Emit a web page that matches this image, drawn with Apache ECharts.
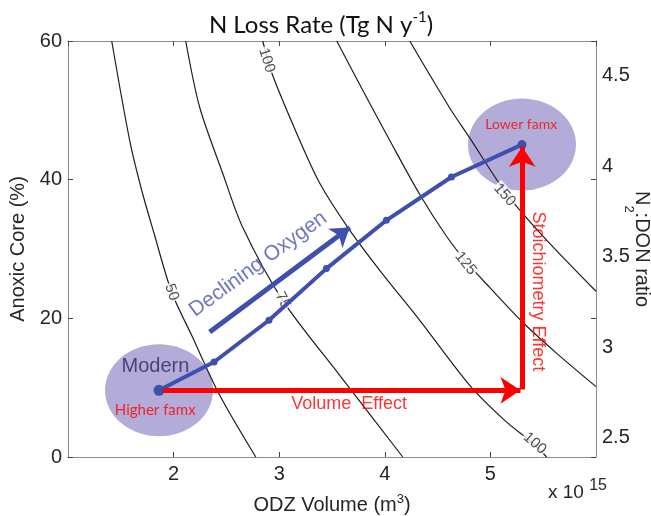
<!DOCTYPE html>
<html><head><meta charset="utf-8">
<script src="https://cdn.jsdelivr.net/npm/echarts@6/dist/echarts.min.js"></script>
<style>html,body{margin:0;padding:0;background:#fff}#c{width:651px;height:516px}</style>
</head><body><div id="c"></div>
<script>
// ---- data (x: ODZ volume, 10^15 m3; y: anoxic core %) ----
const xRange = [1, 6];
const yRange = [0, 60];
const ratioRange = [2.394, 4.692];      // right axis N2:DON ratio
const contour50  = [[1.414,60],[1.584,45.68],[1.698,38.47],[1.812,32.41],[1.982,23.76],[2.171,17.55],[2.437,8.9],[2.778,0]];
const contour75  = [[2.115,60],[2.247,50.44],[2.465,40.92],[2.654,33.13],[3.033,22.60],[3.573,11.78],[4.170,0]];
const contour100 = [[2.844,60],[2.938,55.05],[3.194,45.68],[3.384,39.48],[3.649,33.13],[3.952,26.93],[4.331,19.72],[4.804,10.34],[5.135,5.29],[5.401,1.98],[5.533,0]];
const contour125 = [[3.545,60],[3.781,53.18],[4.046,45.68],[4.331,37.87],[4.586,31.8],[4.776,28.07],[4.993,24.47],[5.306,19.43],[5.628,14.95],[6.0,10.15]];
const contour150 = [[4.236,60],[4.615,50.34],[4.804,46.02],[5.154,37.94],[5.495,31.89],[6.0,23.9]];
const contourLabelText = ['100','50','75','125','150','100'];
const contourLabelPos  = [[2.882,57.22],[1.982,23.76],[3.033,22.6],[4.765,27.93],[5.135,37.8],[5.42,1.98]];
const oxygenPath = [[1.862,9.62],[2.383,13.70],[2.903,19.72],[3.447,27.17],[4.015,34.14],[4.631,40.39],[5.299,45.06]];
const statePoints = [[1.862,9.62],[5.299,45.06]];
const volumeEffect = [[1.899,9.62],[5.285,9.62]];
const stoichEffect = [[5.301,9.72],[5.301,44.74]];
const decliningArrow = [[2.342,18.03],[3.668,33.1]];
const annotationText = ['Modern','Higher famx','Lower famx','Declining Oxygen','Volume  Effect','Stoichiometry Effect'];
const annotationPos  = [[1.828,13.05],[1.826,6.74],[5.292,48.0],[2.80,27.8],[3.662,7.6],[5.448,23.9]];

// ---- styles ----
const HELV = 'Liberation Sans, Arial, sans-serif';
const CAL = 'Lato, Open Sans, sans-serif';
const labelAngles = [-72,-70,-63,-51,-48,-41];
const annotationStyles = [
  {fontSize:20, fontFamily:HELV, color:'#2a2a5e'},
  {fontSize:15, fontFamily:CAL, color:'#ff0000'},
  {fontSize:14, fontFamily:CAL, color:'#ff0000'},
  {fontSize:21, fontFamily:HELV, color:'#4a58b4', rotate:36},
  {fontSize:18, fontFamily:HELV, color:'#ff0000'},
  {fontSize:18, fontFamily:HELV, color:'#ff0000', rotate:-90}
];
const axisGray = '#8c8c8c';
const textDark = '#262626';

const contourSeries = [contour50, contour75, contour100, contour125, contour150].map((d, i) => ({
  type:'line', name:'c'+i, data:d, smooth:0.3, showSymbol:false, symbol:'none', z:2, silent:true,
  lineStyle:{color:'#1e1e1e', width:1.2}, xAxisIndex:0, yAxisIndex:0
}));

const chart = echarts.init(document.getElementById('c'), null, {renderer:'canvas'});
chart.setOption({
  animation:false,
  backgroundColor:'#fff',
  grid:{left:68, right:55, top:41, bottom:59, containLabel:false, outerBoundsMode:'none'},
  xAxis:[
    {type:'value', min:xRange[0], max:xRange[1], interval:1, position:'bottom',
     axisLine:{show:true, onZero:false, lineStyle:{color:axisGray, width:1}},
     axisTick:{show:true, inside:true, length:5, lineStyle:{color:'#444'}},
     axisLabel:{showMinLabel:false, showMaxLabel:false, fontSize:20, fontFamily:HELV, color:textDark, margin:7},
     splitLine:{show:false},
     name:'ODZ Volume (m{sup|3})', nameLocation:'middle', nameGap:36,
     nameTextStyle:{fontSize:20, fontFamily:HELV, color:textDark, lineHeight:24,
       rich:{sup:{fontSize:13, fontFamily:HELV, color:textDark, lineHeight:13, verticalAlign:'top'}}}},
    {type:'value', min:xRange[0], max:xRange[1], interval:1, position:'top',
     axisLine:{show:true, onZero:false, lineStyle:{color:axisGray, width:1}},
     axisTick:{show:true, inside:true, length:5, lineStyle:{color:'#444'}},
     axisLabel:{show:false}, splitLine:{show:false}}
  ],
  yAxis:[
    {type:'value', min:yRange[0], max:yRange[1], interval:20, position:'left',
     axisLine:{show:true, onZero:false, lineStyle:{color:axisGray, width:1}},
     axisTick:{show:true, inside:true, length:5, lineStyle:{color:'#444'}},
     axisLabel:{fontSize:20, fontFamily:HELV, color:textDark, margin:6},
     splitLine:{show:false},
     name:'Anoxic Core (%)', nameLocation:'middle', nameGap:35,
     nameTextStyle:{fontSize:20, fontFamily:HELV, color:textDark}},
    {type:'value', min:ratioRange[0], max:ratioRange[1], splitNumber:5, position:'right',
     axisLine:{show:true, onZero:false, lineStyle:{color:axisGray, width:1}},
     axisTick:{show:false},
     axisLabel:{showMinLabel:false, showMaxLabel:false, fontSize:20, fontFamily:HELV, color:textDark, margin:6,
       formatter:v => { const r = Math.round(v*2)/2; return Math.abs(v-r) < 1e-6 ? String(r) : ''; }},
     splitLine:{show:false}},
    {type:'value', min:yRange[0], max:yRange[1], interval:20, position:'right',
     axisLine:{show:false}, axisTick:{show:true, inside:true, length:5, lineStyle:{color:'#444'}},
     axisLabel:{show:false}, splitLine:{show:false}}
  ],
  graphic:[
    {type:'text', x:321, y:25, silent:true, style:{
      text:'{m|N Loss Rate (Tg N y}{s|-1}{m|)}', align:'center', verticalAlign:'middle',
      rich:{m:{fontSize:24, fontFamily:CAL, fill:'#111', lineHeight:30},
            s:{fontSize:15, fontFamily:CAL, fill:'#111', lineHeight:15, verticalAlign:'top'}}}},
    {type:'text', x:642, y:249, rotation:-Math.PI/2, silent:true, style:{
      text:'{n|N}{s|2}{n|:DON ratio}', align:'center', verticalAlign:'middle',
      rich:{n:{fontSize:20, fontFamily:HELV, fill:textDark, lineHeight:40},
            s:{fontSize:13, fontFamily:HELV, fill:textDark, lineHeight:13, verticalAlign:'bottom'}}}},
    {type:'text', x:548, y:493, silent:true, style:{
      text:'{a|x 10 }{b|15}', align:'left', verticalAlign:'middle',
      rich:{a:{fontSize:19, fontFamily:HELV, fill:textDark, lineHeight:30},
            b:{fontSize:16, fontFamily:HELV, fill:textDark, lineHeight:16, verticalAlign:'top'}}}}
  ],
  series:[
    {type:'scatter', name:'states', data:statePoints, symbol:'circle', symbolSize:[108,92], z:1, silent:true,
     itemStyle:{color:'#b3acd8', opacity:1}},
    ...contourSeries,
    {type:'scatter', name:'contourLabels', z:3, silent:true, symbolSize:0,
     data:contourLabelPos.map((p, i) => ({value:p, label:{formatter:contourLabelText[i], rotate:labelAngles[i]}})),
     label:{show:true, position:'inside', fontSize:15, fontFamily:HELV, color:'#1e1e1e', backgroundColor:'#fff', padding:[0,1]}},
    {type:'line', name:'oxygen', data:oxygenPath.map((p, i) => ({value:p, symbolSize: i === 0 ? 11 : (i === oxygenPath.length-1 ? 9 : 7)})),
     z:5, silent:true, symbol:'circle', showSymbol:true,
     lineStyle:{color:'#3f4fae', width:4}, itemStyle:{color:'#3f4fae'}},
    {type:'lines', coordinateSystem:'cartesian2d', z:5, silent:true,
     data:[{coords:decliningArrow}],
     symbol:['none','arrow'], symbolSize:18,
     lineStyle:{color:'#3f4fae', width:5, opacity:1}},
    {type:'lines', coordinateSystem:'cartesian2d', z:6, silent:true,
     data:[{coords:volumeEffect},{coords:stoichEffect}],
     symbol:['none','arrow'], symbolSize:20,
     lineStyle:{color:'#ff0000', width:5, opacity:1}},
    {type:'scatter', name:'annotations', z:7, silent:true, symbolSize:0,
     data:annotationPos.map((p, i) => ({value:p, label:Object.assign({formatter:annotationText[i]}, annotationStyles[i])})),
     label:{show:true, position:'inside'}}
  ]
});
</script></body></html>
